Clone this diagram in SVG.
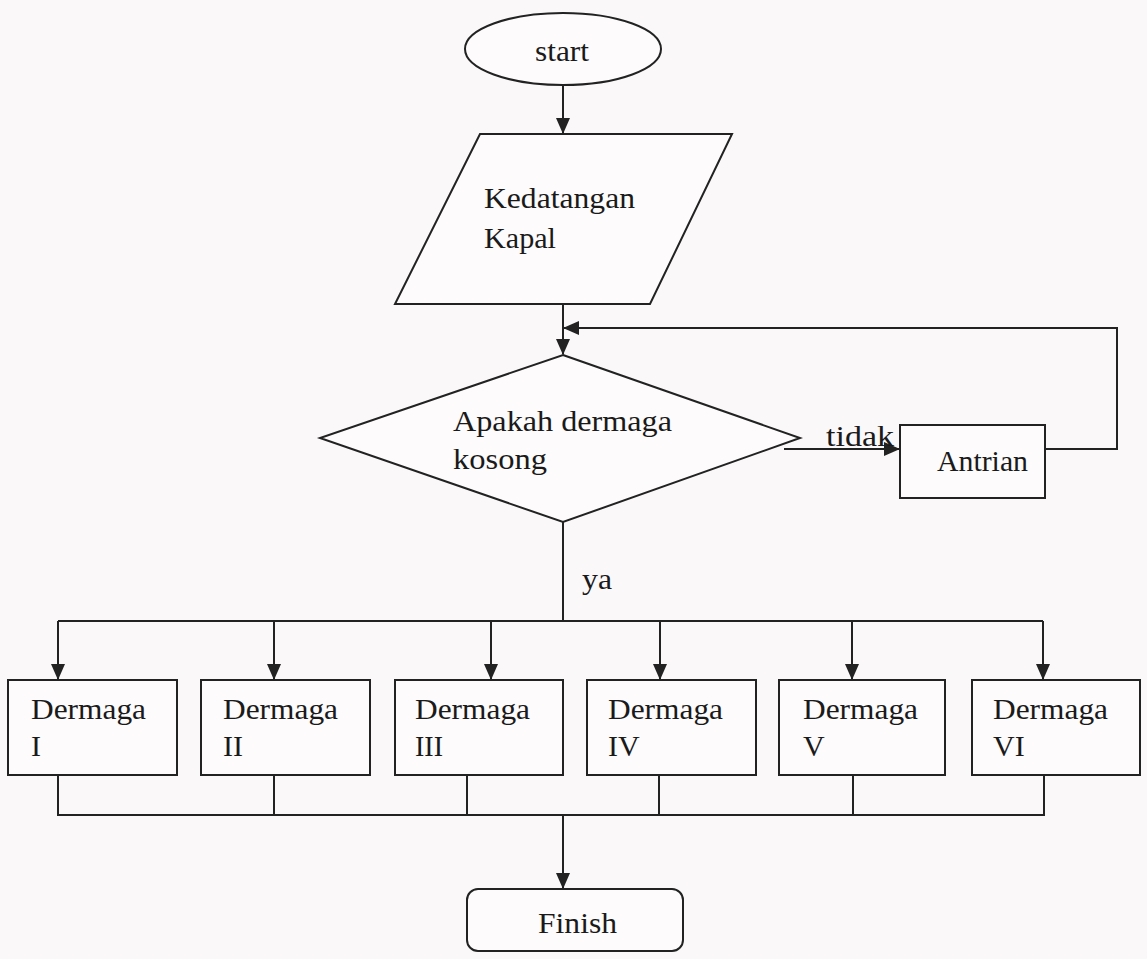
<svg xmlns="http://www.w3.org/2000/svg" width="1147" height="959" viewBox="0 0 1147 959">
<style>
.s{fill:#fdfbfc;stroke:#222;stroke-width:2}
.c{fill:none;stroke:#222;stroke-width:2}
text{font-family:"Liberation Serif","Times New Roman",serif;font-size:30px;fill:#1a1a1a}
</style>
<defs>
<marker id="ah" markerWidth="16" markerHeight="14" refX="15" refY="7" orient="auto" markerUnits="userSpaceOnUse">
<path d="M0,0 L16,7 L0,14 Z" fill="#222"/>
</marker>
</defs>
<rect width="1147" height="959" fill="#fbf8fa"/>
<g id="connectors">
<line class="c" x1="563" y1="85" x2="563" y2="133" marker-end="url(#ah)"/>
<line class="c" x1="563" y1="304" x2="563" y2="354" marker-end="url(#ah)"/>
<line class="c" x1="784" y1="449" x2="899" y2="449" marker-end="url(#ah)"/>
<polyline class="c" points="1045,449 1117,449 1117,328 564,328" marker-end="url(#ah)"/>
<line class="c" x1="563" y1="522" x2="563" y2="621"/>
<line class="c" x1="58" y1="621" x2="1043" y2="621"/>
<line class="c" x1="58" y1="621" x2="58" y2="679" marker-end="url(#ah)"/>
<line class="c" x1="274" y1="621" x2="274" y2="679" marker-end="url(#ah)"/>
<line class="c" x1="491" y1="621" x2="491" y2="679" marker-end="url(#ah)"/>
<line class="c" x1="660" y1="621" x2="660" y2="679" marker-end="url(#ah)"/>
<line class="c" x1="852" y1="621" x2="852" y2="679" marker-end="url(#ah)"/>
<line class="c" x1="1043" y1="621" x2="1043" y2="679" marker-end="url(#ah)"/>
<polyline class="c" points="58,775 58,815 1044,815 1044,775"/>
<line class="c" x1="274" y1="775" x2="274" y2="815"/>
<line class="c" x1="467" y1="775" x2="467" y2="815"/>
<line class="c" x1="659" y1="775" x2="659" y2="815"/>
<line class="c" x1="853" y1="775" x2="853" y2="815"/>
<line class="c" x1="563" y1="815" x2="563" y2="888" marker-end="url(#ah)"/>
<text x="826" y="446" textLength="68" lengthAdjust="spacingAndGlyphs">tidak</text>
<text x="582" y="589" textLength="30" lengthAdjust="spacingAndGlyphs">ya</text>
</g>
<g id="start">
<ellipse class="s" cx="563" cy="49" rx="98" ry="36"/>
<text x="535" y="61" textLength="54" lengthAdjust="spacingAndGlyphs">start</text>
</g>
<g id="kedatangan">
<polygon class="s" points="480,134 732,134 650,304 395,304"/>
<text x="484" y="208" textLength="151" lengthAdjust="spacingAndGlyphs">Kedatangan</text>
<text x="484" y="248" textLength="72" lengthAdjust="spacingAndGlyphs">Kapal</text>
</g>
<g id="decision">
<polygon class="s" points="563,355 800,438 563,522 320,438"/>
<text x="453" y="431" textLength="219" lengthAdjust="spacingAndGlyphs">Apakah dermaga</text>
<text x="453" y="469" textLength="94" lengthAdjust="spacingAndGlyphs">kosong</text>
</g>
<g id="antrian">
<rect class="s" x="900" y="425" width="145" height="73"/>
<text x="937" y="471" textLength="91" lengthAdjust="spacingAndGlyphs">Antrian</text>
</g>
<g id="dermaga1">
<rect class="s" x="8" y="680" width="169" height="95"/>
<text x="31" y="719" textLength="115" lengthAdjust="spacingAndGlyphs">Dermaga</text>
<text x="31" y="756">I</text>
</g>
<g id="dermaga2">
<rect class="s" x="201" y="680" width="169" height="95"/>
<text x="223" y="719" textLength="115" lengthAdjust="spacingAndGlyphs">Dermaga</text>
<text x="223" y="756">II</text>
</g>
<g id="dermaga3">
<rect class="s" x="395" y="680" width="168" height="95"/>
<text x="415" y="719" textLength="115" lengthAdjust="spacingAndGlyphs">Dermaga</text>
<text x="415" y="756" textLength="28" lengthAdjust="spacingAndGlyphs">III</text>
</g>
<g id="dermaga4">
<rect class="s" x="587" y="680" width="169" height="95"/>
<text x="608" y="719" textLength="115" lengthAdjust="spacingAndGlyphs">Dermaga</text>
<text x="608" y="756">IV</text>
</g>
<g id="dermaga5">
<rect class="s" x="779" y="680" width="166" height="95"/>
<text x="803" y="719" textLength="115" lengthAdjust="spacingAndGlyphs">Dermaga</text>
<text x="803" y="756">V</text>
</g>
<g id="dermaga6">
<rect class="s" x="972" y="680" width="168" height="95"/>
<text x="993" y="719" textLength="115" lengthAdjust="spacingAndGlyphs">Dermaga</text>
<text x="993" y="756">VI</text>
</g>
<g id="finish">
<rect class="s" x="467" y="889" width="216" height="62" rx="11"/>
<text x="538" y="933" textLength="79" lengthAdjust="spacingAndGlyphs">Finish</text>
</g>
</svg>
